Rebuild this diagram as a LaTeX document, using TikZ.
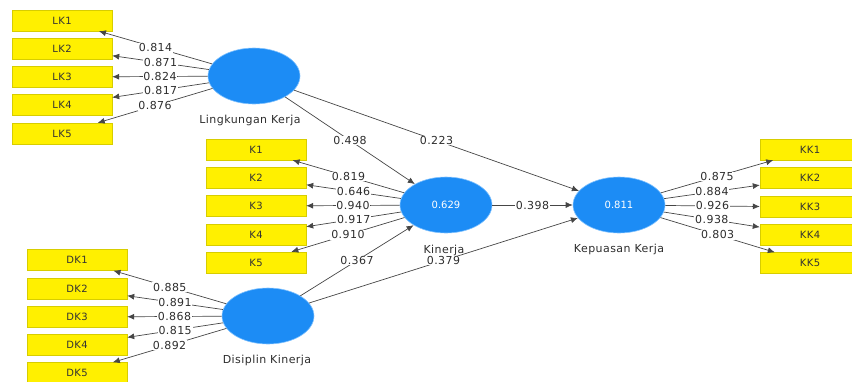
\documentclass[tikz,border=0pt]{standalone}
\usepackage{fontspec}
\setmainfont{DejaVu Sans}
\newfontfamily\wide[LetterSpace=4]{DejaVu Sans}
\usetikzlibrary{arrows.meta,shapes.geometric}
\definecolor{boxy}{RGB}{255,240,0}
\definecolor{boxb}{RGB}{215,205,0}
\definecolor{lvblue}{RGB}{28,140,245}
\definecolor{lvedge}{RGB}{130,195,255}
\definecolor{arr}{RGB}{70,70,70}
\definecolor{txt}{RGB}{45,45,45}
\begin{document}
\begin{tikzpicture}[x=1pt,y=-1pt,
  ind/.style={draw=boxb, fill=boxy, minimum width=100pt, minimum height=21pt, inner sep=0pt,
    font=\wide\fontsize{10}{10}\selectfont, text=black!80},
  lv/.style={ellipse, fill=lvblue, draw=lvedge, line width=0.6pt, minimum width=92pt,
    minimum height=56pt, inner sep=0pt, text=white, font=\fontsize{10}{10}\selectfont},
  lvname/.style={font=\wide\fontsize{11}{11}\selectfont, text=txt, inner sep=1pt},
  conn/.style={draw=arr, line width=0.7pt, -{Latex[length=7pt,width=6pt]}},
  coef/.style={fill=white, inner sep=0.8pt, font=\wide\fontsize{11}{11}\selectfont, text=txt}
]
\useasboundingbox (0,0) rectangle (852,381);
\clip (0,0) rectangle (852,381);
% latent variables
\node[lv] (LKv) at (254,76) {};
\node[lv] (Kv) at (446,205) {0.629};
\node[lv] (KKv) at (619,205) {0.811};
\node[lv] (DKv) at (268,316) {};
\node[lvname] (LKn) at (250,120) {Lingkungan Kerja};
\node[lvname] (Kn) at (444,250) {Kinerja};
\node[lvname] (KKn) at (619,249) {Kepuasan Kerja};
\node[lvname] (DKn) at (267,360) {Disiplin Kinerja};
% indicators
\node[ind] (LK1) at (62,20.5) {LK1};
\node[ind] (LK2) at (62,48.5) {LK2};
\node[ind] (LK3) at (62,77) {LK3};
\node[ind] (LK4) at (62,105) {LK4};
\node[ind] (LK5) at (62,133.5) {LK5};
\node[ind] (K1) at (256,149.5) {K1};
\node[ind] (K2) at (256,177.5) {K2};
\node[ind] (K3) at (256,206) {K3};
\node[ind] (K4) at (256,234.5) {K4};
\node[ind] (K5) at (256,262.5) {K5};
\node[ind] (DK1) at (77,260) {DK1};
\node[ind] (DK2) at (77,288.5) {DK2};
\node[ind] (DK3) at (77,317) {DK3};
\node[ind] (DK4) at (77,345) {DK4};
\node[ind] (DK5) at (77,373) {DK5};
\node[ind] (KK1) at (810,149.5) {KK1};
\node[ind] (KK2) at (810,178) {KK2};
\node[ind] (KK3) at (810,207) {KK3};
\node[ind] (KK4) at (810,235) {KK4};
\node[ind] (KK5) at (810,263) {KK5};
% outer loadings
\draw[conn] (LKv) -- node[coef]{0.814} (LK1);
\draw[conn] (LKv) -- node[coef]{0.871} (LK2);
\draw[conn] (LKv) -- node[coef]{0.824} (LK3);
\draw[conn] (LKv) -- node[coef]{0.817} (LK4);
\draw[conn] (LKv) -- node[coef]{0.876} (LK5);
\draw[conn] (Kv) -- node[coef]{0.819} (K1);
\draw[conn] (Kv) -- node[coef]{0.646} (K2);
\draw[conn] (Kv) -- node[coef]{0.940} (K3);
\draw[conn] (Kv) -- node[coef]{0.917} (K4);
\draw[conn] (Kv) -- node[coef]{0.910} (K5);
\draw[conn] (DKv) -- node[coef]{0.885} (DK1);
\draw[conn] (DKv) -- node[coef]{0.891} (DK2);
\draw[conn] (DKv) -- node[coef]{0.868} (DK3);
\draw[conn] (DKv) -- node[coef]{0.815} (DK4);
\draw[conn] (DKv) -- node[coef]{0.892} (DK5);
\draw[conn] (KKv) -- node[coef]{0.875} (KK1);
\draw[conn] (KKv) -- node[coef]{0.884} (KK2);
\draw[conn] (KKv) -- node[coef]{0.926} (KK3);
\draw[conn] (KKv) -- node[coef]{0.938} (KK4);
\draw[conn] (KKv) -- node[coef]{0.803} (KK5);
% structural paths
\draw[conn] (LKv) -- node[coef]{0.498} (Kv);
\draw[conn] (LKv) -- node[coef]{0.223} (KKv);
\draw[conn] (Kv) -- node[coef]{0.398} (KKv);
\draw[conn] (DKv) -- node[coef]{0.367} (Kv);
\draw[conn] (DKv) -- node[coef]{0.379} (KKv);
\end{tikzpicture}
\end{document}
